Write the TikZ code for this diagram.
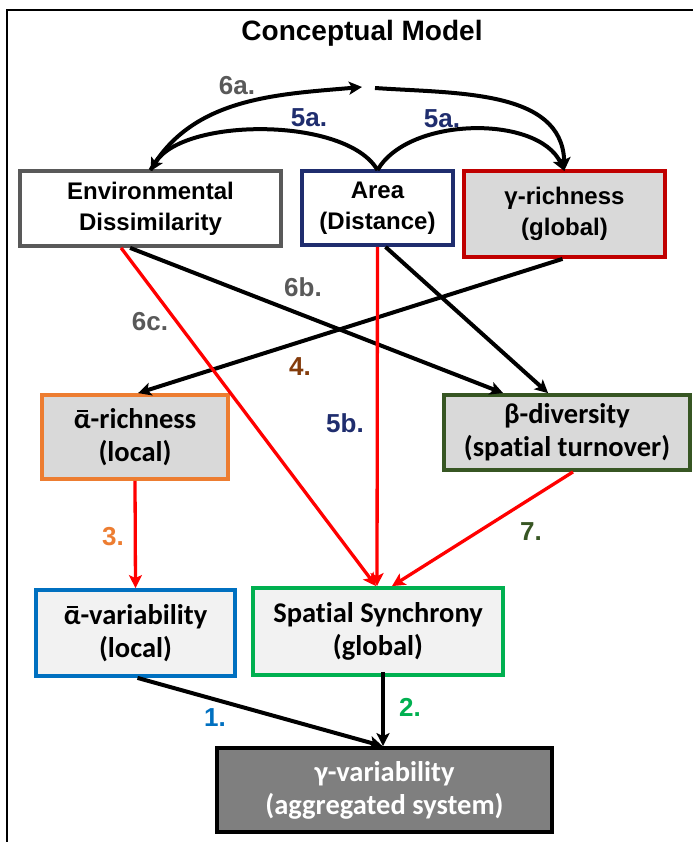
\documentclass[tikz,border=0pt]{standalone}
\usepackage{fontspec}
\setmainfont{Liberation Sans}
\newfontfamily\calfont[Ligatures=NoCommon]{Carlito}
\usetikzlibrary{arrows.meta}
\definecolor{cgray}{HTML}{595959}
\definecolor{cnavy}{HTML}{1F2D6E}
\definecolor{cdred}{HTML}{C00000}
\definecolor{corange}{HTML}{ED7D31}
\definecolor{cdgreen}{HTML}{375623}
\definecolor{cblue}{HTML}{0070C0}
\definecolor{cgreen}{HTML}{00B050}
\definecolor{cbrown}{HTML}{843C0C}
\definecolor{cfillA}{HTML}{D9D9D9}
\definecolor{cfillB}{HTML}{F2F2F2}
\definecolor{cdark}{HTML}{7F7F7F}
\definecolor{cred}{HTML}{FF0000}
\newcommand{\abar}{{\ooalign{α\cr\hidewidth\rule[0.58em]{0.4em}{0.07em}\hidewidth\cr}}}
\tikzset{
  boxnode/.style={draw, line width=3.8pt, align=center, inner sep=0pt, font=\bfseries\fontsize{24}{31}\selectfont},
  calbox/.style={boxnode, font=\calfont\bfseries\fontsize{28.5}{33}\selectfont},
  arr/.style={line width=4pt, -{Stealth[length=13pt,width=13pt,inset=3pt]}},
  redarr/.style={arr, cred, line width=3.3pt},
  lbl/.style={font=\bfseries\fontsize{26}{28}\selectfont}
}
\begin{document}
\begin{tikzpicture}[x=1pt,y=-1pt]
\useasboundingbox (0,0) rectangle (693,842);
\fill[white] (0,0) rectangle (693,842);
\draw[line width=1.3pt] (7,842) -- (7,10) -- (693,10);
\node[font=\bfseries\fontsize{28}{32}\selectfont] (title) at (362,33) {Conceptual Model};
% boxes
\node[boxnode, draw=cgray, fill=white, minimum width=261pt, minimum height=75pt] (env) at (150.5,208.5) {Environmental\\Dissimilarity};
\node[boxnode, draw=cnavy, fill=white, minimum width=151pt, minimum height=74pt] (area) at (377.5,208) {Area\\(Distance)};
\node[boxnode, draw=cdred, fill=cfillA, minimum width=201pt, minimum height=86pt] (grich) at (564.5,214) {γ-richness\\(global)};
\node[calbox, draw=corange, fill=cfillA, minimum width=186pt, minimum height=84pt] (arich) at (135,437) {\abar-richness\\(local)};
\node[calbox, draw=cdgreen, fill=cfillA, minimum width=246pt, minimum height=75pt] (beta) at (567,432.5) {β-diversity\\(spatial turnover)};
\node[calbox, draw=cblue, fill=cfillB, minimum width=199pt, minimum height=86pt] (avar) at (135.5,633) {\abar-variability\\(local)};
\node[calbox, draw=cgreen, fill=cfillB, minimum width=250pt, minimum height=87pt] (sync) at (378,631.5) {Spatial Synchrony\\(global)};
\node[calbox, draw=black, fill=cdark, text=white, minimum width=335pt, minimum height=84pt] (gvar) at (384.5,790) {γ-variability\\(aggregated system)};
% top curves
\coordinate (a6) at (362,87);
\coordinate (b6) at (375,88);
\draw[arr] ([yshift=-1pt]env.north) to[out=60,in=185,looseness=0.95] (a6);
\draw[arr] (b6) to[out=-4,in=92] ([yshift=-1pt]grich.north);
\draw[arr] ([yshift=-1pt]area.north) to[out=120,in=60,looseness=0.7] ([yshift=-2pt]env.north);
\draw[arr] ([yshift=-1pt]area.north) to[out=60,in=115,looseness=0.85] ([yshift=-2pt]grich.north);
% straight arrows
\draw[arr] ([xshift=112pt]env.south west) -- ([xshift=61pt]beta.north west);
\draw[arr] ([xshift=8pt]area.south) -- ([xshift=106pt]beta.north west);
\draw[arr] ([xshift=-2pt]grich.south) -- ([xshift=98pt]arich.north west);
\draw[redarr] ([xshift=103pt]env.south west) -- ([xshift=-2pt]sync.north);
\draw[redarr] (area.south) -- ([xshift=-1pt]sync.north);
\draw[redarr] ([xshift=6pt]beta.south) -- ([xshift=14pt]sync.north);
\draw[redarr] (arich.south) -- (avar.north);
\draw[arr] ([xshift=2pt]avar.south) -- ([xshift=-2pt]gvar.north);
\draw[arr] ([yshift=5pt,xshift=5pt]sync.south) -- ([xshift=-1.5pt]gvar.north);
% labels
\node[lbl, text=cgray] (l6a) at (237,86) {6a.};
\node[lbl, text=cnavy] (l5a1) at (309,118) {5a.};
\node[lbl, text=cnavy] (l5a2) at (442,119) {5a.};
\node[lbl, text=cgray] (l6b) at (303,287) {6b.};
\node[lbl, text=cgray] (l6c) at (150,322) {6c.};
\node[lbl, text=cbrown] (l4) at (300,367) {4.};
\node[lbl, text=cnavy] (l5b) at (345,423) {5b.};
\node[lbl, text=corange] (l3) at (113,537) {3.};
\node[lbl, text=cdgreen] (l7) at (531,532) {7.};
\node[lbl, text=cblue] (l1) at (215,718) {1.};
\node[lbl, text=cgreen] (l2) at (410,707) {2.};
\end{tikzpicture}
\end{document}
